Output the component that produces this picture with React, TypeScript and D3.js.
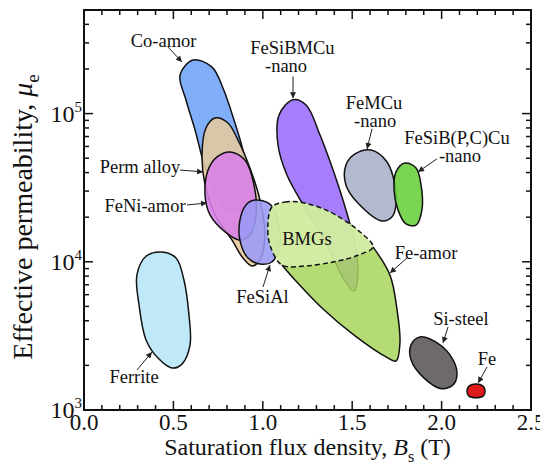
import React, { useRef, useEffect } from 'react';
import * as d3 from 'd3';

const width = 548;
const height = 469;
const margin = { top: 10, right: 17, bottom: 59, left: 84 };

const xTicks = [0, 0.5, 1.0, 1.5, 2.0, 2.5];
const xTickLabels = ['0.0', '0.5', '1.0', '1.5', '2.0', '2.5'];
const yTicks = [1e3, 1e4, 1e5];
const yTickExp = ['3', '4', '5'];

// region outlines, [Bs (T), mu_e]
const ferrite = [[0.436, 1.165e4], [0.515, 1.06e4], [0.559, 7.54e3], [0.587, 4.38e3], [0.593, 2.75e3], [0.548, 2.04e3], [0.492, 1.92e3], [0.414, 2.24e3], [0.347, 2.97e3], [0.308, 5.11e3], [0.296, 8.15e3], [0.347, 1.09e4]];
const coAmor = [[0.61, 2.3e5], [0.716, 2.06e5], [0.777, 1.49e5], [0.839, 9.05e4], [0.895, 5.26e4], [0.917, 3.05e4], [0.861, 2.17e4], [0.772, 2.42e4], [0.682, 4.16e4], [0.621, 7.75e4], [0.57, 1.24e5], [0.537, 1.82e5]];
const permAlloy = [[0.733, 9.34e4], [0.805, 8.64e4], [0.856, 6.84e4], [0.928, 4.3e4], [0.984, 2.61e4], [1.012, 1.52e4], [0.984, 1.03e4], [0.94, 9.37e3], [0.889, 1.06e4], [0.828, 1.4e4], [0.733, 2.07e4], [0.677, 3.3e4], [0.66, 5.26e4], [0.682, 7.99e4]];
const feNiAmor = [[0.817, 5.51e4], [0.9, 4.86e4], [0.951, 3.3e4], [0.962, 2.07e4], [0.928, 1.52e4], [0.872, 1.4e4], [0.789, 1.59e4], [0.705, 2.07e4], [0.677, 2.82e4], [0.694, 4.16e4], [0.744, 5.1e4]];
const feSiAl = [[0.956, 2.61e4], [1.04, 2.45e4], [1.085, 1.91e4], [1.096, 1.3e4], [1.051, 9.97e3], [0.984, 9.66e3], [0.917, 1.06e4], [0.872, 1.4e4], [0.872, 1.91e4], [0.906, 2.42e4]];
const feSiBMCu = [[1.169, 1.24e5], [1.242, 1.143e5], [1.32, 7.17e4], [1.393, 4.16e4], [1.465, 2.24e4], [1.516, 1.3e4], [1.532, 8.15e3], [1.51, 6.35e3], [1.449, 7.78e3], [1.359, 1.3e4], [1.236, 2.31e4], [1.135, 3.85e4], [1.085, 6.14e4], [1.091, 9.79e4]];
const feMCu = [[1.605, 5.68e4], [1.695, 4.71e4], [1.739, 3.3e4], [1.745, 2.42e4], [1.723, 2.01e4], [1.667, 1.885e4], [1.532, 2.49e4], [1.465, 3.3e4], [1.465, 4.5e4], [1.516, 5.34e4]];
const feSiBPCCu = [[1.795, 4.64e4], [1.857, 4.3e4], [1.885, 3.3e4], [1.89, 2.24e4], [1.857, 1.77e4], [1.801, 1.8e4], [1.756, 2.24e4], [1.734, 3.05e4], [1.745, 4.04e4]];
const bmgTop = [[1.051, 2.34e4], [1.124, 2.53e4], [1.208, 2.53e4], [1.376, 2.17e4], [1.544, 1.59e4]];
const feAmorEdge = [[1.616, 1.26e4], [1.711, 8.15e3], [1.751, 4.73e3], [1.767, 2.83e3], [1.745, 2.14e3], [1.689, 2.28e3], [1.516, 3.16e3], [1.331, 4.88e3], [1.18, 7.54e3], [1.107, 9.51e3]];
const bmgBottom = [[1.616, 1.26e4], [1.516, 1.09e4], [1.393, 9.97e3], [1.236, 9.37e3], [1.107, 9.51e3]];
const bmgLeft = [[1.04, 1.3e4], [1.029, 1.83e4]];
const siSteel = [[1.879, 3.11e3], [1.991, 2.75e3], [2.058, 2.24e3], [2.086, 1.8e3], [2.069, 1.5e3], [2.002, 1.39e3], [1.902, 1.64e3], [1.829, 2.18e3], [1.829, 2.75e3]];
const fe = [[2.192, 1.5e3], [2.232, 1.45e3], [2.243, 1.34e3], [2.232, 1.24e3], [2.192, 1.21e3], [2.153, 1.24e3], [2.142, 1.34e3], [2.153, 1.45e3]];

const feAmor = [...bmgTop, ...feAmorEdge, ...bmgLeft];
const bmgs = [...bmgTop, ...bmgBottom, ...bmgLeft];

const regions = [
  { name: 'Ferrite', pts: ferrite, fill: '#b6e6f8' },
  { name: 'Co-amor', pts: coAmor, fill: '#6ea3f7' },
  { name: 'Perm alloy', pts: permAlloy, fill: '#e6ca9c' },
  { name: 'FeNi-amor', pts: feNiAmor, fill: '#d87fe9' },
  { name: 'FeSiAl', pts: feSiAl, fill: '#9a9af6' },
  { name: 'FeSiBMCu', pts: feSiBMCu, fill: '#9a6cfa' },
  { name: 'FeMCu', pts: feMCu, fill: '#a9afc8' },
  { name: 'FeSiBPCCu', pts: feSiBPCCu, fill: '#68d03a' },
];

// label text, [Bs, mu_e] of its anchor
const labels = [
  { text: 'Co-amor', at: [0.445, 2.81e5] },
  { text: 'FeSiBMCu', at: [1.166, 2.53e5] },
  { text: '-nano', at: [1.13, 1.91e5] },
  { text: 'FeMCu', at: [1.622, 1.075e5] },
  { text: '-nano', at: [1.628, 8.12e4] },
  { text: 'FeSiB(P,C)Cu', at: [2.086, 6.24e4] },
  { text: '-nano', at: [2.103, 4.71e4] },
  { text: 'Perm alloy', at: [0.313, 3.97e4] },
  { text: 'FeNi-amor', at: [0.341, 2.17e4] },
  { text: 'BMGs', at: [1.247, 1.3e4] },
  { text: 'Fe-amor', at: [1.913, 1.045e4] },
  { text: 'FeSiAl', at: [0.998, 5.27e3] },
  { text: 'Ferrite', at: [0.28, 1.52e3] },
  { text: 'Si-steel', at: [2.108, 3.75e3] },
  { text: 'Fe', at: [2.254, 2.01e3] },
];

// arrows: from -> to
const arrows = [
  [[0.47, 2.81e5], [0.548, 2.23e5]],
  [[1.169, 1.78e5], [1.169, 1.27e5]],
  [[1.611, 7.9e4], [1.583, 5.77e4]],
  [[1.974, 4.95e4], [1.868, 4.04e4]],
  [[0.537, 4.16e4], [0.666, 4.04e4]],
  [[0.576, 2.42e4], [0.688, 2.49e4]],
  [[1.001, 6.76e3], [1.04, 9.51e3]],
  [[0.296, 1.86e3], [0.38, 2.46e3]],
  [[1.806, 1.06e4], [1.711, 8.4e3]],
  [[2.036, 3.63e3], [2.008, 2.83e3]],
  [[2.254, 1.95e3], [2.204, 1.52e3]],
];

const serif = 'Liberation Serif';

const App = () => {
  const svgRef = useRef<SVGSVGElement>(null);

  useEffect(() => {
    const svg = d3.select(svgRef.current);
    svg.selectAll('*').remove();

    const x = d3.scaleLinear().domain([0, 2.5]).range([margin.left, width - margin.right]);
    const y = d3.scaleLog().domain([1e3, 5e5]).range([height - margin.bottom, margin.top]);
    const x0 = x.range()[0], x1 = x.range()[1];
    const y0 = y.range()[0], y1 = y.range()[1];

    const closed = d3.line<number[]>().x((d) => x(d[0])).y((d) => y(d[1])).curve(d3.curveCatmullRomClosed.alpha(0.5));
    const open = d3.line<number[]>().x((d) => x(d[0])).y((d) => y(d[1])).curve(d3.curveCatmullRom.alpha(0.5));

    svg.append('defs').append('marker')
      .attr('id', 'arr')
      .attr('viewBox', '0 0 10 10')
      .attr('refX', 10).attr('refY', 5)
      .attr('markerWidth', 7).attr('markerHeight', 6)
      .attr('markerUnits', 'userSpaceOnUse')
      .attr('orient', 'auto')
      .append('path').attr('d', 'M0,0L10,5L0,10Z').attr('fill', '#222');

    const g = svg.append('g');

    regions.forEach((r) => {
      g.append('path')
        .attr('d', closed(r.pts))
        .attr('fill', r.fill)
        .attr('fill-opacity', 0.88)
        .attr('stroke', '#111')
        .attr('stroke-width', 1.5);
    });

    // Fe-amor, BMGs region on top of it
    g.append('path').attr('d', closed(feAmor)).attr('fill', '#a8d65c').attr('fill-opacity', 0.85);
    g.append('path').attr('d', closed(bmgs)).attr('fill', '#dcf2b4').attr('fill-opacity', 0.75)
      .attr('stroke', '#111').attr('stroke-width', 1.5).attr('stroke-dasharray', '5,3');
    g.append('path').attr('d', open(feAmorEdge)).attr('fill', 'none').attr('stroke', '#111').attr('stroke-width', 1.5);

    g.append('path').attr('d', closed(siSteel)).attr('fill', '#6e696a').attr('stroke', '#111').attr('stroke-width', 1.5);
    g.append('path').attr('d', closed(fe)).attr('fill', '#dd1a1a').attr('stroke', '#111').attr('stroke-width', 1.5);

    arrows.forEach(([a, b]) => {
      g.append('line')
        .attr('x1', x(a[0])).attr('y1', y(a[1]))
        .attr('x2', x(b[0])).attr('y2', y(b[1]))
        .attr('stroke', '#222').attr('stroke-width', 1)
        .attr('marker-end', 'url(#arr)');
    });

    labels.forEach((l) => {
      g.append('text')
        .attr('x', x(l.at[0])).attr('y', y(l.at[1]))
        .attr('text-anchor', 'middle')
        .style('font-family', serif).style('font-size', '18.5px')
        .attr('fill', '#111')
        .text(l.text);
    });

    // ticks on all four sides, pointing inward
    const ax = svg.append('g').attr('stroke', '#111').attr('stroke-width', 1.5);
    d3.range(0, 26).forEach((i) => {
      const v = i / 10;
      const len = i % 5 === 0 ? 9 : 5;
      ax.append('line').attr('x1', x(v)).attr('x2', x(v)).attr('y1', y0).attr('y2', y0 - len);
      ax.append('line').attr('x1', x(v)).attr('x2', x(v)).attr('y1', y1).attr('y2', y1 + len);
    });
    y.ticks().forEach((v) => {
      const len = yTicks.includes(v) ? 9 : 5;
      ax.append('line').attr('x1', x0).attr('x2', x0 + len).attr('y1', y(v)).attr('y2', y(v));
      ax.append('line').attr('x1', x1).attr('x2', x1 - len).attr('y1', y(v)).attr('y2', y(v));
    });

    svg.append('rect')
      .attr('x', x0).attr('y', y1)
      .attr('width', x1 - x0).attr('height', y0 - y1)
      .attr('fill', 'none').attr('stroke', '#111').attr('stroke-width', 2);

    xTicks.forEach((v, i) => {
      svg.append('text')
        .attr('x', x(v)).attr('y', y0 + 20)
        .attr('text-anchor', 'middle')
        .style('font-family', serif).style('font-size', '23px')
        .attr('fill', '#111')
        .text(xTickLabels[i]);
    });

    yTicks.forEach((v, i) => {
      const t = svg.append('text')
        .attr('x', x0 - 2).attr('y', y(v) + 8)
        .attr('text-anchor', 'end')
        .style('font-family', serif).style('font-size', '24px')
        .attr('fill', '#111');
      t.append('tspan').text('10');
      t.append('tspan').attr('dy', -10).style('font-size', '15px').text(yTickExp[i]);
    });

    const xt = svg.append('text')
      .attr('x', (x0 + x1) / 2).attr('y', 455)
      .attr('text-anchor', 'middle')
      .style('font-family', serif).style('font-size', '24px')
      .attr('fill', '#111');
    xt.append('tspan').text('Saturation flux density, ');
    xt.append('tspan').attr('font-style', 'italic').text('B');
    xt.append('tspan').attr('dy', 7).style('font-size', '16px').text('s');
    xt.append('tspan').attr('dy', -7).text(' (T)');

    const yt = svg.append('text')
      .attr('transform', 'translate(32,217) rotate(-90)')
      .attr('text-anchor', 'middle')
      .style('font-family', serif).style('font-size', '28px')
      .attr('fill', '#111');
    yt.append('tspan').text('Effective permeability, ');
    yt.append('tspan').attr('font-style', 'italic').text('μ');
    yt.append('tspan').attr('dy', 7).style('font-size', '19px').text('e');
  }, []);

  return (
    <div style={{ position: 'relative', width: width, height: height }}>
      <svg
        ref={svgRef}
        width={width}
        height={height}
        style={{ position: 'absolute', left: -8, top: -8, background: '#fff' }}
      />
    </div>
  );
};

export default App;
